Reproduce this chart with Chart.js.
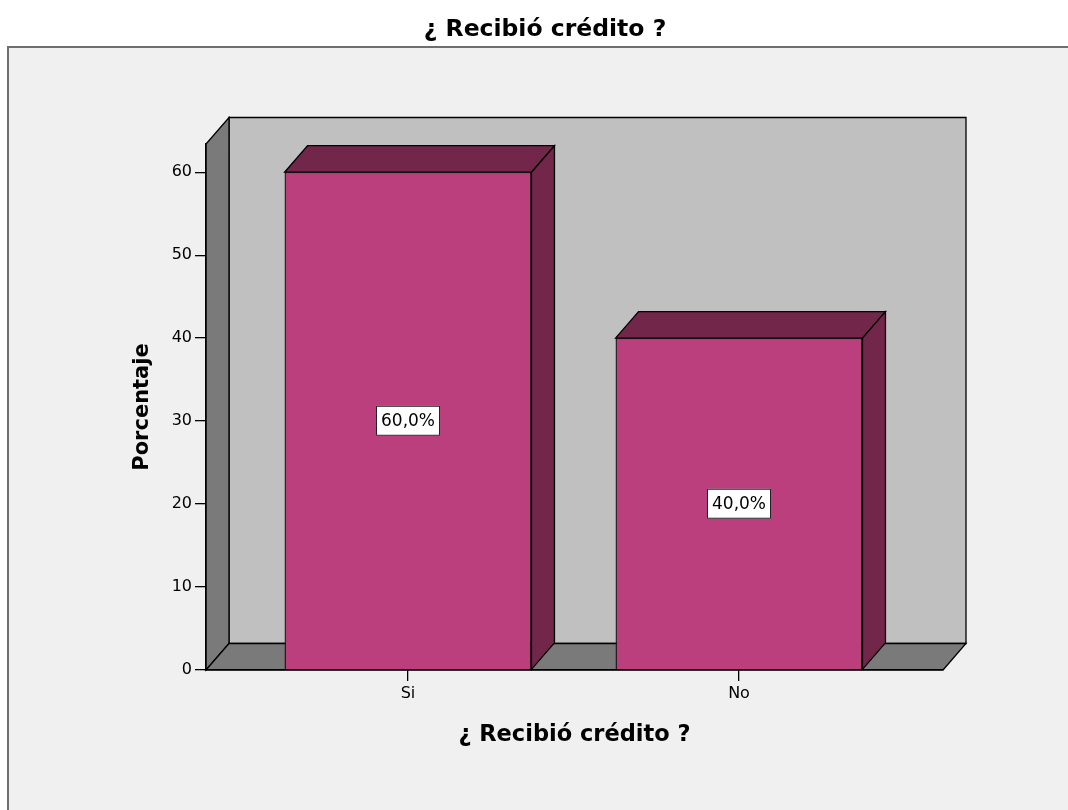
<!DOCTYPE html>
<html>
<head>
<meta charset="utf-8">
<script src="https://cdn.jsdelivr.net/npm/chart.js@4.4.1/dist/chart.umd.min.js"></script>
<style>
html,body{margin:0;padding:0;background:#ffffff;}
#wrap{width:1068px;height:810px;position:relative;}
canvas{display:block;}
</style>
</head>
<body>
<div id="wrap"><canvas id="c" width="1068" height="810"></canvas></div>
<script>
// ---- data ----
const categories = ['Si', 'No'];
const percentages = [60, 40];
const yTickValues = [0, 10, 20, 30, 40, 50, 60];
const chartTitle = '¿ Recibió crédito ?';
const xAxisTitle = '¿ Recibió crédito ?';
const yAxisTitle = 'Porcentaje';

const FONT = "'DejaVu Sans', 'Liberation Sans', Arial, sans-serif";
const DX = 23, DY = -26.5;

const scene3d = {
  id: 'scene3d',
  beforeDraw(chart) {
    const ctx = chart.ctx;
    const ca = chart.chartArea;
    const L = ca.left, R = ca.right, T = ca.top, B = ca.bottom;
    ctx.save();
    ctx.fillStyle = '#ffffff';
    ctx.fillRect(0, 0, chart.width, chart.height);
    // frame
    ctx.fillStyle = '#f0f0f0';
    ctx.fillRect(8, 47, chart.width, chart.height);
    ctx.strokeStyle = '#6f6f6f';
    ctx.lineWidth = 2;
    ctx.beginPath();
    ctx.moveTo(8, chart.height + 2);
    ctx.lineTo(8, 47);
    ctx.lineTo(chart.width + 2, 47);
    ctx.stroke();
    // back wall
    ctx.lineWidth = 1.3;
    ctx.strokeStyle = '#000';
    ctx.fillStyle = '#c0c0c0';
    ctx.beginPath();
    ctx.rect(L + DX, T + DY, R - L, B - T);
    ctx.fill(); ctx.stroke();
    // left wall
    ctx.fillStyle = '#7a7a7a';
    ctx.beginPath();
    ctx.moveTo(L, B); ctx.lineTo(L, T); ctx.lineTo(L + DX, T + DY); ctx.lineTo(L + DX, B + DY); ctx.closePath();
    ctx.fill(); ctx.stroke();
    // floor
    ctx.beginPath();
    ctx.moveTo(L, B); ctx.lineTo(L + DX, B + DY); ctx.lineTo(R + DX, B + DY); ctx.lineTo(R, B); ctx.closePath();
    ctx.fill(); ctx.stroke();
    ctx.restore();
  },
  afterDatasetsDraw(chart) {
    const ctx = chart.ctx;
    const meta = chart.getDatasetMeta(0);
    ctx.save();
    ctx.lineWidth = 1.3;
    ctx.strokeStyle = '#000';
    meta.data.forEach((bar, i) => {
      const p = bar.getProps(['x', 'y', 'base', 'width'], true);
      const l = p.x - p.width / 2, r = p.x + p.width / 2, t = p.y, b = p.base;
      ctx.fillStyle = '#72264a';
      ctx.beginPath();
      ctx.moveTo(l, t); ctx.lineTo(l + DX, t + DY); ctx.lineTo(r + DX, t + DY); ctx.lineTo(r, t); ctx.closePath();
      ctx.fill(); ctx.stroke();
      ctx.beginPath();
      ctx.moveTo(r, t); ctx.lineTo(r + DX, t + DY); ctx.lineTo(r + DX, b + DY); ctx.lineTo(r, b); ctx.closePath();
      ctx.fill(); ctx.stroke();
      // value label
      const txt = percentages[i].toFixed(1).replace('.', ',') + '%';
      ctx.font = '17px ' + FONT;
      const tw = ctx.measureText(txt).width;
      const cy = (t + b) / 2;
      const bw = tw + 10, bh = 30;
      ctx.fillStyle = '#ffffff';
      ctx.lineWidth = 1;
      ctx.fillRect(p.x - bw / 2, cy - bh / 2, bw, bh);
      ctx.strokeStyle = '#222';
      ctx.strokeRect(p.x - bw / 2 + 0.5, cy - bh / 2 + 0.5, bw - 1, bh - 1);
      ctx.strokeStyle = '#000';
      ctx.fillStyle = '#000';
      ctx.textAlign = 'center';
      ctx.textBaseline = 'middle';
      ctx.fillText(txt, p.x, cy + 1);
      ctx.lineWidth = 1.3;
    });
    ctx.restore();
  }
};

new Chart(document.getElementById('c'), {
  type: 'bar',
  data: {
    datasets: [{
      data: categories.map((c, i) => ({ x: i, y: percentages[i] })),
      backgroundColor: '#bb3f7c',
      borderColor: '#000',
      borderWidth: 1.3,
      barPercentage: 0.746,
      categoryPercentage: 1.0
    }]
  },
  options: {
    responsive: false,
    animation: false,
    events: [],
    layout: { padding: { left: 22, right: 0, top: 0, bottom: 0 } },
    plugins: {
      legend: { display: false },
      tooltip: { enabled: false },
      title: {
        display: true,
        text: chartTitle,
        color: '#000',
        font: { family: FONT, size: 23.5, weight: 'bold', lineHeight: 1.2 },
        padding: { top: 15.9, bottom: 99.9 }
      }
    },
    scales: {
      x: {
        type: 'linear',
        min: -0.6103,
        max: 1.6163,
        offset: false,
        afterBuildTicks: (s) => { s.ticks = categories.map((c, i) => ({ value: i })); },
        afterFit: (s) => { s.height = 140; },
        ticks: {
          color: '#000',
          font: { family: FONT, size: 16 },
          padding: 3,
          maxRotation: 0,
          autoSkip: false,
          callback: (v) => categories[v]
        },
        grid: { offset: false, drawOnChartArea: false, drawTicks: true, tickLength: 11, color: '#000', lineWidth: 1.3 },
        border: { display: true, color: '#000', width: 1.3 },
        title: {
          display: true,
          text: xAxisTitle,
          color: '#000',
          font: { family: FONT, size: 22.5, weight: 'bold', lineHeight: 1.2 },
          padding: { top: 0, bottom: 61.5 }
        }
      },
      y: {
        type: 'linear',
        position: 'left',
        min: 0,
        max: 63.4,
        afterBuildTicks: (s) => { s.ticks = yTickValues.map(v => ({ value: v })); },
        afterFit: (s) => { s.width = 184; },
        ticks: {
          color: '#000',
          font: { family: FONT, size: 16 },
          padding: 3
        },
        grid: { drawOnChartArea: false, drawTicks: true, tickLength: 11, color: '#000', lineWidth: 1.3 },
        border: { display: true, color: '#000', width: 1.3 },
        title: {
          display: true,
          text: yAxisTitle,
          color: '#000',
          font: { family: FONT, size: 21, weight: 'bold', lineHeight: 1.2 },
          padding: { top: 108.4, bottom: 0 }
        }
      },
      yR: {
        type: 'linear',
        position: 'right',
        display: true,
        afterFit: (s) => { s.width = 125; },
        ticks: { display: false },
        grid: { display: false, drawTicks: false },
        border: { display: false }
      }
    }
  },
  plugins: [scene3d]
});
</script>
</body>
</html>
